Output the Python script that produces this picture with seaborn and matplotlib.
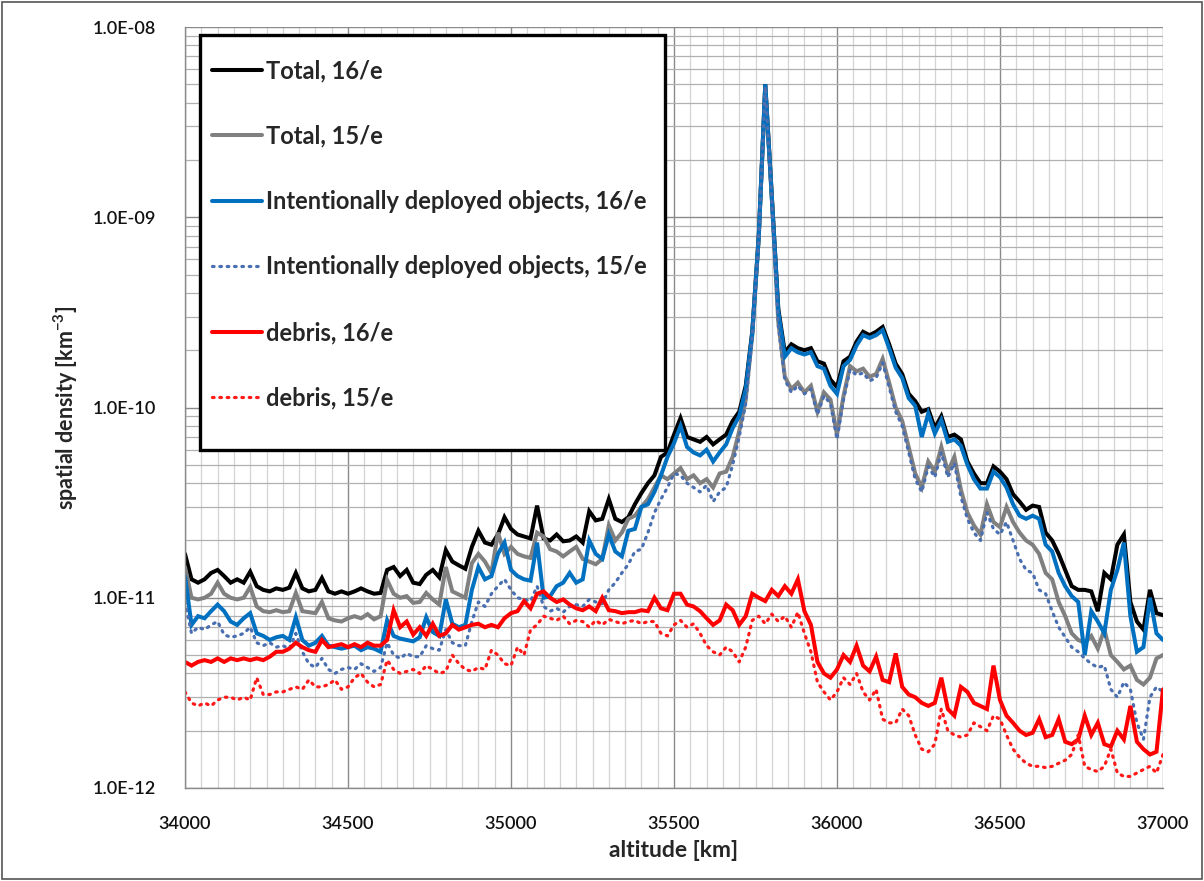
import numpy as np
import pandas as pd
import matplotlib
matplotlib.use("Agg")
import matplotlib.pyplot as plt
from matplotlib.ticker import MultipleLocator, LogLocator, FuncFormatter, NullFormatter
from matplotlib.patches import Rectangle
import seaborn as sns

# Altitude grid (km), 20 km bins
altitude = np.arange(34000, 37001, 20)

# Spatial densities in units of 1e-12 km^-3
UNIT = 1e-12

total_16e = [
    17, 12.5, 12, 12.5, 13.5, 14, 13, 12, 12.5, 12, 13.7, 11.5, 11, 10.8, 11.2, 11, 11.3, 13.5, 11.2, 10.8, 11, 12.7, 10.8, 10.5, 10.8, 10.5,
    10.8, 11.2, 10.8, 10.5, 10.6, 14, 14.5, 13, 14, 12, 11.8, 13.2, 14, 12.8, 17.8, 15.5, 14.8, 14.2, 18.5, 22.5, 19.5, 19, 21.5, 26.5, 23,
    21.5, 21, 20.5, 30.5, 20.5, 20, 21.5, 19.8, 20, 21, 19.5, 28.5, 25.5, 26, 33, 26, 25, 26.5, 31, 35.5, 40, 44, 55, 58, 72,
    88, 70, 68, 66, 70, 64, 68, 72, 85, 95, 130, 250, 800, 5000, 1300, 330, 195, 215, 205, 200, 205, 175, 170, 140, 128,
    175, 185, 222, 250, 240, 250, 265, 215, 170, 150, 118, 108, 95, 98, 78, 90, 70, 72, 68, 52, 45, 40, 40, 49, 46,
    42, 35, 32, 29, 30.5, 30, 22, 20, 17, 14, 11.5, 11, 11, 10.8, 8.5, 13.5, 12.5, 19, 21.5, 9.5, 7.5, 6.8, 11, 8.3, 8.1,
]

total_15e = [
    14.5, 10, 9.8, 10, 10.5, 12, 10.5, 10, 9.8, 10, 11.4, 9, 8.5, 8.4, 8.6, 8.4, 8.5, 10.6, 8.5, 8.4, 8.3, 9.5, 7.8, 7.6, 7.5, 7.8,
    8, 7.8, 8.2, 7.7, 8, 12.4, 10.5, 10, 10.2, 9.4, 9.5, 10.6, 9.8, 9.2, 14.5, 10.8, 10.4, 10, 15.2, 17, 15.5, 13.5, 22, 17, 18.5,
    17, 16.5, 16.2, 22, 21, 18, 17.5, 16.5, 17.5, 18.5, 16, 15.5, 15, 16, 24, 20, 22, 26, 27, 30, 33, 38, 44, 42, 45,
    48, 42, 44, 40, 42, 38, 45, 46, 55, 75, 110, 240, 780, 4900, 1250, 280, 145, 125, 135, 120, 130, 95, 120, 110, 72,
    115, 165, 155, 160, 145, 150, 180, 135, 100, 85, 62, 45, 38, 52, 46, 62, 46, 55, 37, 28, 24, 21.5, 31, 25, 23.5,
    30, 25, 22, 20, 19, 17, 13.5, 12.5, 9.5, 8, 6.5, 6, 5.8, 6.3, 5.4, 6.8, 5, 4.6, 4.2, 4.4, 3.7, 3.5, 3.8, 4.8, 5,
]

intentional_16e = [
    13, 7.2, 8, 7.8, 8.5, 9.2, 8.5, 7.5, 7.2, 7.8, 8.3, 6.5, 6.3, 6, 6.2, 6.3, 6, 7.9, 6, 5.6, 5.8, 6.3, 5.6, 5.5, 5.4, 5.5,
    5.6, 5.3, 5.5, 5.4, 5.2, 7.6, 6.3, 6.1, 6, 5.9, 6.2, 7.9, 6.6, 6.3, 9.8, 7.3, 7, 7.2, 11, 14.5, 12.5, 13, 17, 19.5, 14,
    13, 12.5, 12.3, 19.5, 10, 10.2, 11.5, 12, 13.5, 12, 12.5, 20, 17, 16, 21.5, 17.5, 16.5, 22.5, 23, 30, 31, 36, 44, 55, 65,
    80, 62, 58, 56, 60, 52, 58, 64, 78, 90, 125, 245, 790, 5000, 1280, 320, 185, 205, 195, 190, 195, 165, 160, 130, 118,
    165, 178, 212, 240, 232, 240, 255, 205, 162, 143, 112, 102, 70, 93, 73, 86, 66, 68, 63, 50, 42, 37.5, 37.5, 46, 43,
    38, 31, 27, 26, 27, 26, 19, 17.5, 13.5, 11.5, 10.2, 9.5, 5, 8.5, 7.5, 6.5, 11, 14, 19.5, 8, 5.2, 5.5, 10, 6.5, 6,
]

intentional_15e = [
    9.5, 6.5, 7, 6.8, 7.2, 7.5, 6.4, 6.2, 6.3, 6.5, 7, 5.8, 5.6, 5.8, 5.5, 5.6, 5.4, 6.5, 5.2, 4.5, 4.3, 4.8, 4.2, 4.0, 4.2, 4.3,
    4.2, 4.5, 4.3, 4.1, 4.3, 5.8, 5.0, 4.8, 5.1, 4.9, 4.9, 5.6, 5.4, 5.3, 6.8, 5.8, 5.6, 5.6, 7.5, 9.5, 9, 10.5, 11.5, 12.5, 11,
    10, 9.8, 9.6, 11.5, 9, 8.5, 8.8, 8.4, 9, 9.2, 9, 9.8, 9.5, 9.3, 11, 12, 13.5, 15, 17.5, 18, 22, 28, 33, 38, 45,
    44, 40, 38, 36, 39, 32, 36, 38, 50, 70, 105, 235, 770, 4850, 1230, 270, 140, 120, 130, 118, 125, 92, 115, 105, 68,
    110, 158, 148, 152, 138, 143, 172, 128, 95, 80, 58, 42, 36, 49, 43, 58, 43, 51, 34, 26, 22, 20, 28, 23, 21.5,
    25, 20, 16, 14, 13.5, 11, 10.5, 8.5, 7, 6.2, 5.5, 5.2, 4.8, 4.5, 4.3, 4.4, 3.3, 3.0, 3.6, 3.3, 2.2, 1.8, 3.0, 3.4, 3.2,
]

debris_16e = [
    4.6, 4.4, 4.6, 4.7, 4.6, 4.8, 4.6, 4.8, 4.7, 4.8, 4.7, 4.8, 4.7, 4.9, 5.2, 5.2, 5.4, 5.8, 5.5, 5.3, 5.2, 6, 5.5, 5.6, 5.7, 5.5,
    5.7, 5.5, 5.8, 5.6, 5.6, 6, 8.6, 7, 7.5, 6.4, 7, 6.3, 7.3, 6.3, 6.5, 7.2, 6.8, 7, 7.2, 7.3, 7, 7.2, 7, 7.8, 8.3,
    8.5, 9.6, 8.8, 10.5, 10.8, 10, 9.5, 9.8, 9.2, 8.8, 8.6, 9, 8.5, 10, 8.6, 8.5, 8.3, 8.4, 8.4, 8.6, 8.5, 10, 8.8, 8.6, 10.5,
    10.5, 9.2, 9, 8.5, 7.8, 7.2, 7.6, 9.2, 8.6, 7.2, 8, 10.5, 10, 9.6, 11, 10.2, 11.5, 10.5, 12.5, 8.5, 7.2, 4.6, 4, 3.8, 4.2,
    5.0, 4.6, 5.6, 4.4, 4.1, 4.9, 3.7, 3.6, 5.1, 3.4, 3.1, 3.0, 2.8, 2.7, 2.8, 3.8, 2.6, 2.4, 3.4, 3.2, 2.8, 2.7, 2.6, 4.4, 2.9,
    2.4, 2.2, 2.0, 1.9, 1.95, 2.3, 1.85, 1.9, 2.3, 1.75, 1.7, 1.8, 2.4, 1.9, 2.2, 1.7, 1.65, 2.0, 1.8, 2.7, 1.75, 1.6, 1.5, 1.55, 3.3,
]

debris_15e = [
    3.2, 2.8, 2.7, 2.8, 2.7, 2.9, 3.0, 3.0, 2.9, 3.0, 2.9, 3.8, 3.1, 3.1, 3.2, 3.2, 3.3, 3.4, 3.3, 3.7, 3.4, 3.4, 3.5, 3.7, 3.3, 3.4,
    3.8, 4.0, 3.6, 3.4, 3.5, 4.7, 4.2, 4.0, 4.1, 4.2, 4.0, 4.4, 4.2, 4.0, 4.1, 5.0, 4.5, 4.2, 4.1, 4.3, 4.2, 5.3, 5.0, 4.5, 4.4,
    5.5, 5.0, 6.8, 7.2, 8.0, 7.8, 7.6, 8, 7.3, 7.6, 7.5, 7, 7.6, 7.2, 7.7, 7.5, 7.3, 7.5, 7.6, 7.3, 7.5, 7.5, 6.5, 6.3, 7.2,
    7.6, 7, 7.3, 6.5, 5.6, 5.2, 5, 5.5, 5.2, 4.6, 5.5, 7.6, 8, 7.3, 8.2, 7.5, 8, 7, 8.4, 6.5, 5.2, 3.6, 3.2, 2.9, 3.2,
    3.8, 3.5, 4.0, 3.2, 2.9, 3.3, 2.3, 2.2, 2.2, 2.6, 2.4, 1.9, 1.6, 1.55, 1.7, 2.6, 2.0, 1.9, 1.85, 1.9, 2.2, 2.1, 2.0, 2.4, 2.3,
    1.9, 1.6, 1.45, 1.35, 1.3, 1.3, 1.28, 1.3, 1.35, 1.4, 1.5, 1.9, 1.3, 1.25, 1.22, 1.3, 1.6, 1.2, 1.15, 1.15, 1.2, 1.25, 1.3, 1.2, 1.5,
]

series_labels = [
    "Total, 16/e",
    "Total, 15/e",
    "Intentionally deployed objects, 16/e",
    "Intentionally deployed objects, 15/e",
    "debris, 16/e",
    "debris, 15/e",
]
series_values = [total_16e, total_15e, intentional_16e, intentional_15e, debris_16e, debris_15e]

styles = [
    dict(color="#000000", lw=2.9, ls="-"),
    dict(color="#808080", lw=2.9, ls="-"),
    dict(color="#0070C0", lw=2.9, ls="-"),
    dict(color="#4A6FB0", lw=2.3, ls=(0, (0.5, 1.8))),
    dict(color="#FF0000", lw=2.9, ls="-"),
    dict(color="#FF1A1A", lw=2.3, ls=(0, (0.5, 1.8))),
]

sns.set_style("white")
plt.rcParams["font.family"] = ["Lato", "DejaVu Sans"]

W, H = 1204, 881
fig = plt.figure(figsize=(W / 100, H / 100), dpi=100)
ax = fig.add_axes([185 / W, 1 - 788 / H, 978 / W, 761 / H])

for label, vals, st in zip(series_labels, series_values, styles):
    df = pd.DataFrame({"altitude": altitude, "density": np.asarray(vals) * UNIT})
    sns.lineplot(data=df, x="altitude", y="density", ax=ax, label=label,
                 color=st["color"], linewidth=st["lw"], linestyle=st["ls"],
                 sort=False, estimator=None, solid_joinstyle="miter",
                 dash_capstyle="round")

ax.set_yscale("log")
ax.set_xlim(34000, 37000)
ax.set_ylim(1e-12, 1e-8)

ax.xaxis.set_major_locator(MultipleLocator(500))
ax.xaxis.set_minor_locator(MultipleLocator(50))
ax.yaxis.set_major_locator(LogLocator(base=10, numticks=10))
ax.yaxis.set_minor_locator(LogLocator(base=10, subs=np.arange(2, 10), numticks=20))
ax.yaxis.set_major_formatter(FuncFormatter(lambda v, p: f"{v:.1E}"))
ax.yaxis.set_minor_formatter(NullFormatter())

ax.grid(which="major", color="#8a8a8a", linewidth=1.0)
ax.grid(which="minor", axis="y", color="#b0b0b0", linewidth=0.9)
ax.grid(which="minor", axis="x", color="#d4d4d4", linewidth=0.9)
ax.set_axisbelow(True)

for s in ["top", "right"]:
    ax.spines[s].set_visible(False)
for s in ["left", "bottom"]:
    ax.spines[s].set_color("#8a8a8a")
    ax.spines[s].set_linewidth(1.0)

ax.tick_params(which="major", direction="out", length=7, width=1.0, color="#8a8a8a",
               labelsize=13, labelcolor="#111111")
ax.tick_params(axis="y", which="major", pad=14)
ax.tick_params(axis="x", which="major", pad=13)
ax.tick_params(which="minor", length=0)
for lbl in ax.get_xticklabels() + ax.get_yticklabels():
    lbl.set_fontweight("semibold")

ax.set_xlabel("altitude [km]", fontsize=16.5, fontweight="bold", labelpad=6)
ax.set_ylabel("spatial density [km$^{\\mathregular{-3}}$]", fontsize=15.5, fontweight="bold", labelpad=9)

# legend box drawn as a framed panel, entries placed inside it
ax.add_patch(Rectangle((15 / 978, 1 - 423 / 761), 465 / 978, 415 / 761, transform=ax.transAxes,
                       facecolor="white", edgecolor="#000000", linewidth=2.4, zorder=4.5,
                       clip_on=False))
leg = ax.legend(loc="upper left", bbox_to_anchor=(27 / 978, 1 - 32 / 761), frameon=False,
                prop=dict(size=17, weight="bold"), handlelength=2.1, handletextpad=0.2,
                labelspacing=1.8, borderpad=0.0, borderaxespad=0.0)
leg.set_zorder(6)

# thin frame around the whole figure
fig.patches.append(Rectangle((0.002, 0.002), 0.996, 0.996, transform=fig.transFigure,
                             fill=False, edgecolor="#555555", linewidth=1.2))

fig.savefig("out.png", dpi=100)
